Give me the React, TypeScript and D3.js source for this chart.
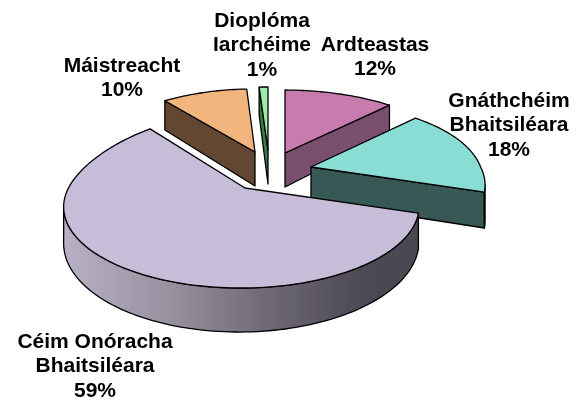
import React from "react";
import * as d3 from "d3";

const categories = ["Ardteastas", "Gnáthchéim Bhaitsiléara", "Céim Onóracha Bhaitsiléara", "Máistreacht", "Dioplóma Iarchéime"];
const shares = [12, 18, 59, 10, 1];
const topColors = ["#C87CAE", "#8ADDD5", "#C7BDD9", "#F2B57E", "#9DECA8"];
const wallColors = ["#7A4F6E", "#375854", "url(#rim)", "#634732", "#3E7A48"];
const labelLines = [["Ardteastas"], ["Gnáthchéim", "Bhaitsiléara"], ["Céim Onóracha", "Bhaitsiléara"], ["Máistreacht"], ["Dioplóma", "Iarchéime"]];

// layout
const W = 583, H = 401;
const apexes: [number, number][] = [[285, 153], [311, 167], [245, 188], [255, 152], [268, 150]];
const backStretchX = [0.055, 0.055, 0, -0.065, 0];
const backStretchY = [0, 0.03, 0.2, 0, 0];
const labelAnchors: [number, number][] = [[375, 50.5], [509, 106.5], [95, 347.5], [122, 71.5], [262, 26.5]];
const drawOrder = [0, 4, 3, 1, 2];
const RX = 173, RY = 77.3, P = 0.227, Q = 0.02, DEPTH = 34, LINE = 24.5;

const project = (a: number, depth: number, i: number): [number, number] => {
  const u = Math.sin(a), v = -Math.cos(a), w = 1 - P * v + Q * u;
  const back = Math.max(0, -v);
  return [
    (RX * u * (1 + backStretchX[i] * back)) / w,
    (RY * v * (1 + backStretchY[i] * back) + depth) / w,
  ];
};
const sample = (a0: number, a1: number, depth: number, i: number) => {
  const n = Math.max(2, Math.ceil(Math.abs(a1 - a0) * 40));
  return d3.range(n + 1).map((k) => project(a0 + ((a1 - a0) * k) / n, depth, i));
};
const line = d3.line<[number, number]>();
const closed = (pts: [number, number][]) => line(pts) + "Z";

const TURN = Math.acos(-P);

export default function App() {
  const arcs = d3.pie<number>().sort(null).startAngle(0).endAngle(2 * Math.PI)(shares);
  return (
    <svg width={W} height={H} viewBox={`0 0 ${W} ${H}`} style={{ position: "absolute", left: 0, top: 0, background: "#fff" }}>
      <defs>
        <linearGradient id="rim" gradientUnits="userSpaceOnUse" x1={-181} x2={175} y1={0} y2={0}>
          <stop offset="0" stopColor="#B8B1C6" />
          <stop offset="0.3" stopColor="#96909F" />
          <stop offset="0.6" stopColor="#6A6573" />
          <stop offset="0.85" stopColor="#4B4853" />
          <stop offset="1" stopColor="#4A4750" />
        </linearGradient>
        <filter id="soft" x="-5%" y="-5%" width="110%" height="110%">
          <feGaussianBlur stdDeviation="0.45" />
        </filter>
      </defs>
      <g filter="url(#soft)">
        <g stroke="#000" strokeWidth={1.3} strokeLinejoin="round">
          {drawOrder.map((i) => {
            const { startAngle: a0, endAngle: a1 } = arcs[i];
            const [ax, ay] = apexes[i];
            const parts: React.ReactNode[] = [];
            const wall = (a: number, key: string) => {
              const t = project(a, 0, i), b = project(a, DEPTH, i);
              parts.push(
                <path key={key} d={closed([[0, 0], [0, DEPTH], b, t])} fill={wallColors[i]} />
              );
            };
            if (Math.sin(a0) < 0) wall(a0, "s");
            if (Math.sin(a1) > 1e-6) wall(a1, "e");
            const r0 = Math.max(a0, TURN), r1 = Math.min(a1, 2 * Math.PI - TURN);
            if (r1 > r0) {
              parts.push(
                <path key="r" d={closed([...sample(r0, r1, 0, i), ...sample(r1, r0, DEPTH, i)])} fill={wallColors[i]} />
              );
            }
            parts.push(
              <path key="t" d={closed([[0, 0], ...sample(a0, a1, 0, i)])} fill={topColors[i]} />
            );
            return (
              <g key={categories[i]} transform={`translate(${ax},${ay})`}>
                {parts}
              </g>
            );
          })}
        </g>
        <g fontFamily="'Liberation Sans', Arial, sans-serif" fontWeight="bold" fontSize={21} fill="#000" textAnchor="middle">
          {labelLines.map((lines, i) => {
            const [x, y] = labelAnchors[i];
            const all = [...lines, `${shares[i]}%`];
            return (
              <text key={categories[i]} x={x} y={y}>
                {all.map((s, j) => (
                  <tspan key={j} x={x} y={y + j * LINE}>{s}</tspan>
                ))}
              </text>
            );
          })}
        </g>
      </g>
    </svg>
  );
}
